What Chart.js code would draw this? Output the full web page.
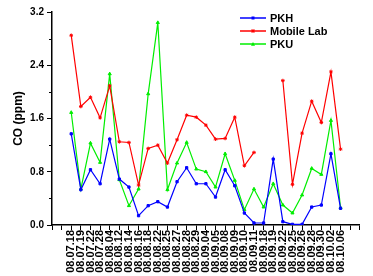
<!DOCTYPE html>
<html>
<head>
<meta charset="utf-8">
<script src="https://cdn.jsdelivr.net/npm/chart.js@4/dist/chart.umd.min.js"></script>
<style>
  body { margin: 0; background: #fff; }
  #wrap { position: relative; width: 373px; height: 276px; }
  #legend { position: absolute; left: 240px; top: 11px; font: bold 11px "Liberation Sans", Arial, sans-serif; color: #000; }
  .row { display: flex; align-items: center; height: 13px; white-space: nowrap; }
  .row svg { margin-right: 4px; }
</style>
</head>
<body>
<div id="wrap">
  <canvas id="myChart" width="373" height="276"></canvas>
  <div id="legend"></div>
</div>
<script>
// sampling dates (yy.mm.dd)
const dates = ['08.07.18', '08.07.19', '08.07.22', '08.07.28', '08.08.04', '08.08.12', '08.08.14', '08.08.16',
    '08.08.18', '08.08.22', '08.08.25', '08.08.27', '08.08.28', '08.08.29', '08.09.04', '08.09.05',
    '08.09.08', '08.09.09', '08.09.10', '08.09.11', '08.09.18', '08.09.19', '08.09.22', '08.09.25',
    '08.09.26', '08.09.28', '08.09.30', '08.10.02', '08.10.06'];

// CO in ppm
const pkh = [1.37, 0.53, 0.83, 0.62, 1.29, 0.69, 0.57, 0.14, 0.29, 0.35, 0.27, 0.65, 0.86, 0.62, 0.62, 0.42,
    0.83, 0.59, 0.18, 0.03, 0.03, 0.99, 0.05, 0.01, 0.01, 0.27, 0.30, 1.07, 0.25];
const mobileLab = [2.85, 1.78, 1.92, 1.61, 2.09, 1.25, 1.24, 0.60, 1.15, 1.20, 0.93, 1.28, 1.65, 1.62, 1.50, 1.29,
    1.30, 1.62, 0.89, 1.09, null, null, 2.17, 0.61, 1.38, 1.86, 1.54, 2.30, 1.14];
const pku = [1.69, 0.54, 1.23, 0.94, 2.27, 0.68, 0.29, 0.54, 1.97, 3.04, 0.53, 0.93, 1.24, 0.84, 0.80, 0.57,
    1.07, 0.67, 0.23, 0.54, 0.27, 0.62, 0.30, 0.18, 0.45, 0.85, 0.76, 1.57, 0.26];

const yTicks = [0, 0.8, 1.6, 2.4, 3.2];
const yMinor = [0.4, 1.2, 2.0, 2.8];

// two empty slots on each side of the axis
const pad = ['', ''];
const labels = [...pad, ...dates, ...pad];
const padNull = (arr) => [null, null, ...arr, null, null];

Chart.defaults.font.family = '"Liberation Sans", Arial, sans-serif';
Chart.defaults.color = '#000';

const series = [
    { name: 'PKH', data: pkh, color: '#0000ff', style: 'rect', radius: 1.6 },
    { name: 'Mobile Lab', data: mobileLab, color: '#ff0000', style: 'star', radius: 1.8 },
    { name: 'PKU', data: pku, color: '#00ee00', style: 'triangle', radius: 1.8 }
];

const minorTicks = {
    id: 'minorTicks',
    afterDraw(chart) {
        const y = chart.scales.y;
        const ctx = chart.ctx;
        ctx.save();
        ctx.strokeStyle = '#000';
        ctx.lineWidth = 1;
        yMinor.forEach(v => {
            const py = Math.round(y.getPixelForValue(v)) + 0.5;
            ctx.beginPath();
            ctx.moveTo(y.right - 3, py);
            ctx.lineTo(y.right, py);
            ctx.stroke();
        });
        ctx.restore();
    }
};

const ctx = document.getElementById('myChart');
const myChart = new Chart(ctx, {
    type: 'line',
    data: {
        labels: labels,
        datasets: series.map(s => ({
            label: s.name,
            data: padNull(s.data),
            borderColor: s.color,
            backgroundColor: s.color,
            borderWidth: 1.2,
            pointStyle: s.style,
            pointRadius: s.radius,
            pointBorderWidth: 1,
            tension: 0,
            spanGaps: false
        }))
    },
    options: {
        responsive: false,
        animation: false,
        layout: { autoPadding: false, padding: { left: 0, top: 12, right: 5, bottom: 0 } },
        plugins: { legend: { display: false }, tooltip: { enabled: false } },
        scales: {
            x: {
                offset: false,
                afterFit: (s) => { s.height = 51; },
                grid: { drawOnChartArea: false, tickLength: 5, tickColor: '#000', lineWidth: 1 },
                border: { display: true, color: '#000', width: 1.5 },
                ticks: {
                    autoSkip: false,
                    minRotation: 90,
                    maxRotation: 90,
                    padding: 0,
                    font: { size: 11, weight: 'bold' }
                }
            },
            y: {
                min: 0,
                max: 3.2,
                afterFit: (s) => { s.width = 52; },
                afterBuildTicks: (s) => { s.ticks = yTicks.map(v => ({ value: v })); },
                grid: { drawOnChartArea: false, tickLength: 5, tickColor: '#000', lineWidth: 1 },
                border: { display: true, color: '#000', width: 1.5 },
                ticks: {
                    padding: 3,
                    font: { size: 10, weight: 'bold' },
                    callback: (v) => Number(v).toFixed(1)
                },
                title: {
                    display: true,
                    text: 'CO (ppm)',
                    padding: { top: 11, bottom: 0 },
                    font: { size: 12, weight: 'bold' }
                }
            }
        }
    },
    plugins: [minorTicks]
});

// legend: line with marker + name
const legend = document.getElementById('legend');
series.forEach(s => {
    let mark = '';
    if (s.style === 'rect') {
        mark = `<rect x="11.5" y="2.5" width="3" height="3" fill="${s.color}"/>`;
    } else if (s.style === 'star') {
        mark = `<path d="M13 2V6M11 4H15M11.6 2.6L14.4 5.4M14.4 2.6L11.6 5.4" stroke="${s.color}" stroke-width="1"/>`;
    } else {
        mark = `<path d="M13 2L15 5.8H11Z" fill="${s.color}"/>`;
    }
    const row = document.createElement('div');
    row.className = 'row';
    row.innerHTML = `<svg width="26" height="8"><line x1="0" y1="4" x2="26" y2="4" stroke="${s.color}" stroke-width="1.5"/>${mark}</svg><span>${s.name}</span>`;
    legend.appendChild(row);
});
</script>
</body>
</html>
